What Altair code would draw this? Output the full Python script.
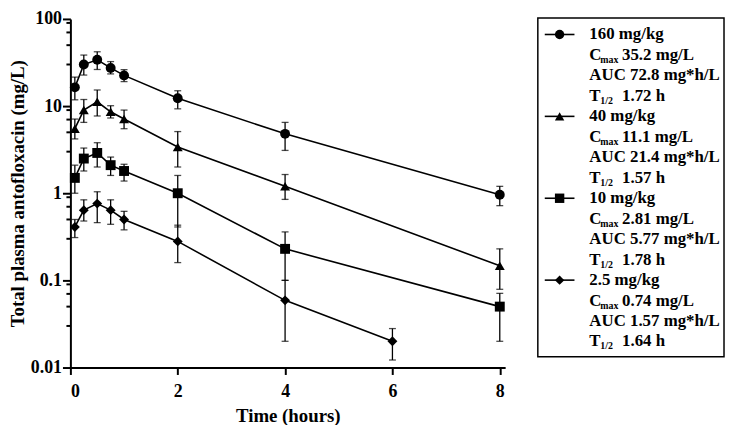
import altair as alt
import pandas as pd

FONT = "Liberation Serif"

doses = ["160 mg/kg", "40 mg/kg", "10 mg/kg", "2.5 mg/kg"]
shapes = ["circle", "triangle-up", "square", "diamond"]

times_main = [0.083, 0.25, 0.5, 0.75, 1, 2, 4, 8]
times_low = [0.083, 0.25, 0.5, 0.75, 1, 2, 4, 6]

c160 = [16.4, 30.0, 34.0, 27.4, 22.5, 12.3, 4.8, 0.96]
c160_hi = [21.5, 38.5, 42.0, 32.4, 26.2, 15.0, 6.5, 1.2]
c160_lo = [11.8, 22.7, 26.3, 23.4, 19.1, 9.3, 3.1, 0.72]

c40 = [5.5, 9.0, 11.2, 8.6, 7.1, 3.4, 1.2, 0.147]
c40_hi = [7.1, 11.9, 15.3, 10.1, 9.0, 5.1, 1.64, 0.23]
c40_lo = [4.2, 6.5, 7.7, 7.3, 5.5, 2.0, 0.85, 0.079]

c10 = [1.5, 2.5, 2.9, 2.1, 1.8, 1.0, 0.23, 0.05]
c10_hi = [2.1, 3.3, 3.8, 2.6, 2.15, 1.6, 0.36, 0.071]
c10_lo = [1.0, 1.8, 2.0, 1.6, 1.38, 0.41, 0.1, 0.02]

c25 = [0.41, 0.64, 0.76, 0.64, 0.5, 0.28, 0.059, 0.02]
c25_hi = [0.5, 0.84, 1.04, 0.84, 0.62, 0.43, 0.1, 0.028]
c25_lo = [0.31, 0.48, 0.46, 0.44, 0.38, 0.16, 0.02, 0.0122]

x_ticks = [0, 2, 4, 6, 8]
y_major = [0.01, 0.1, 1, 10, 100]
y_minor_mult = [3, 5, 7, 9]

# legend text
leg_dose = ["160 mg/kg", "40 mg/kg", "10 mg/kg", "2.5 mg/kg"]
leg_cmax = ["35.2 mg/L", "11.1 mg/L", "2.81 mg/L", "0.74 mg/L"]
leg_auc = ["AUC 72.8 mg*h/L", "AUC 21.4 mg*h/L", "AUC 5.77 mg*h/L", "AUC 1.57 mg*h/L"]
leg_thalf = ["1.72 h", "1.57 h", "1.78 h", "1.64 h"]

series = [
    (doses[0], times_main, c160, c160_hi, c160_lo),
    (doses[1], times_main, c40, c40_hi, c40_lo),
    (doses[2], times_main, c10, c10_hi, c10_lo),
    (doses[3], times_low, c25, c25_hi, c25_lo),
]
rows = []
for dose, ts, cs, his, los in series:
    for t, c, h, l in zip(ts, cs, his, los):
        rows.append({"dose": dose, "time": t, "conc": c, "hi": h, "lo": l})
df = pd.DataFrame(rows)

minor_df = pd.DataFrame({"v": [round(d * m, 6) for d in y_major[:-1] for m in y_minor_mult]})

x_scale = alt.Scale(domain=[0, 8.1], nice=False, zero=False)
y_scale = alt.Scale(type="log", domain=[0.01, 100], nice=False)
shape_scale = alt.Scale(domain=doses, range=shapes)

x_axis = alt.Axis(values=x_ticks, title="Time (hours)", tickSize=7, labelPadding=8,
                  titlePadding=6, format="d")
y_axis = alt.Axis(values=y_major, title="Total plasma antofloxacin (mg/L)",
                  labelExpr="format(datum.value, '~g')",
                  tickSize=8, labelPadding=1, titlePadding=3)

W, H = 439, 352

base = alt.Chart(df)
lines = base.mark_line(color="black", strokeWidth=1.6).encode(
    x=alt.X("time:Q", scale=x_scale, axis=x_axis),
    y=alt.Y("conc:Q", scale=y_scale, axis=y_axis),
    detail="dose:N",
)
bars = base.mark_errorbar(
    ticks={"size": 7, "color": "black", "thickness": 1.3},
    rule={"color": "black", "strokeWidth": 1.3},
).encode(
    x=alt.X("time:Q", scale=x_scale, axis=x_axis),
    y=alt.Y("lo:Q", scale=y_scale, axis=y_axis),
    y2="hi:Q",
)
points = base.mark_point(filled=True, opacity=1, color="black", size=100).encode(
    x=alt.X("time:Q", scale=x_scale, axis=x_axis),
    y=alt.Y("conc:Q", scale=y_scale, axis=y_axis),
    shape=alt.Shape("dose:N", scale=shape_scale, legend=None),
)
minor = alt.Chart(minor_df).mark_rule(color="black", strokeWidth=2).encode(
    y=alt.Y("v:Q", scale=y_scale, axis=y_axis),
    x=alt.value(-4), x2=alt.value(0),
)
plot = alt.layer(lines, bars, points, minor).properties(width=W, height=H)

# ---- legend panel ----
leg_rows = []
r = 0
for i in range(4):
    leg_rows.append({"row": r, "dose": leg_dose[i], "kind": "head", "main": leg_dose[i], "sub": "", "rest": ""}); r += 1
    leg_rows.append({"row": r, "dose": leg_dose[i], "kind": "cmax", "main": "C", "sub": "max", "rest": leg_cmax[i]}); r += 1
    leg_rows.append({"row": r, "dose": leg_dose[i], "kind": "auc", "main": leg_auc[i], "sub": "", "rest": ""}); r += 1
    leg_rows.append({"row": r, "dose": leg_dose[i], "kind": "thalf", "main": "T", "sub": "1/2", "rest": leg_thalf[i]}); r += 1
leg_df = pd.DataFrame(leg_rows)

LW = 188
step = 20.67
first = 15.7
leg_y = alt.Y("row:Q", scale=alt.Scale(domain=[-first / step, (H - first) / step],
                                       reverse=True, nice=False, zero=False), axis=None)
X0 = 52
lbase = alt.Chart(leg_df)
txt_kw = dict(align="left", baseline="middle", font=FONT, fontWeight="bold", color="black")
main_t = lbase.mark_text(fontSize=17, **txt_kw).encode(x=alt.value(X0), y=leg_y, text="main:N")
sub_t = lbase.transform_filter("datum.sub != ''").mark_text(fontSize=10, dy=5, **txt_kw).encode(
    x=alt.value(X0 + 11), y=leg_y, text="sub:N")
rest_t = lbase.transform_filter("datum.rest != ''").mark_text(fontSize=17, **txt_kw).encode(
    x=alt.value(X0 + 33), y=leg_y, text="rest:N")
sym_line = lbase.transform_filter("datum.kind == 'head'").mark_rule(color="black", strokeWidth=1.6).encode(
    x=alt.value(7), x2=alt.value(37), y=leg_y)
sym_pt = lbase.transform_filter("datum.kind == 'head'").mark_point(
    filled=True, opacity=1, color="black", size=90).encode(
    x=alt.value(22), y=leg_y,
    shape=alt.Shape("dose:N", scale=shape_scale, legend=None))
box = alt.Chart(pd.DataFrame({"b": [0]})).mark_rect(
    fillOpacity=0, stroke="black", strokeWidth=1.5).encode(
    x=alt.value(0), x2=alt.value(LW), y=alt.value(-1), y2=alt.value(341))
legend = alt.layer(box, sym_line, sym_pt, main_t, sub_t, rest_t).properties(width=LW, height=H)

chart = alt.hconcat(plot, legend, spacing=33, bounds="flush").resolve_scale(
    shape="independent"
).properties(padding=0).configure_view(stroke=None).configure_axis(
    labelFont=FONT, titleFont=FONT, labelFontWeight="bold", titleFontWeight="bold",
    labelFontSize=18, titleFontSize=19, labelColor="black", titleColor="black",
    domainColor="black", tickColor="black", domainWidth=2, tickWidth=2, grid=False,
)

chart.save("out.html", embed_options={"renderer": "svg", "actions": False})
